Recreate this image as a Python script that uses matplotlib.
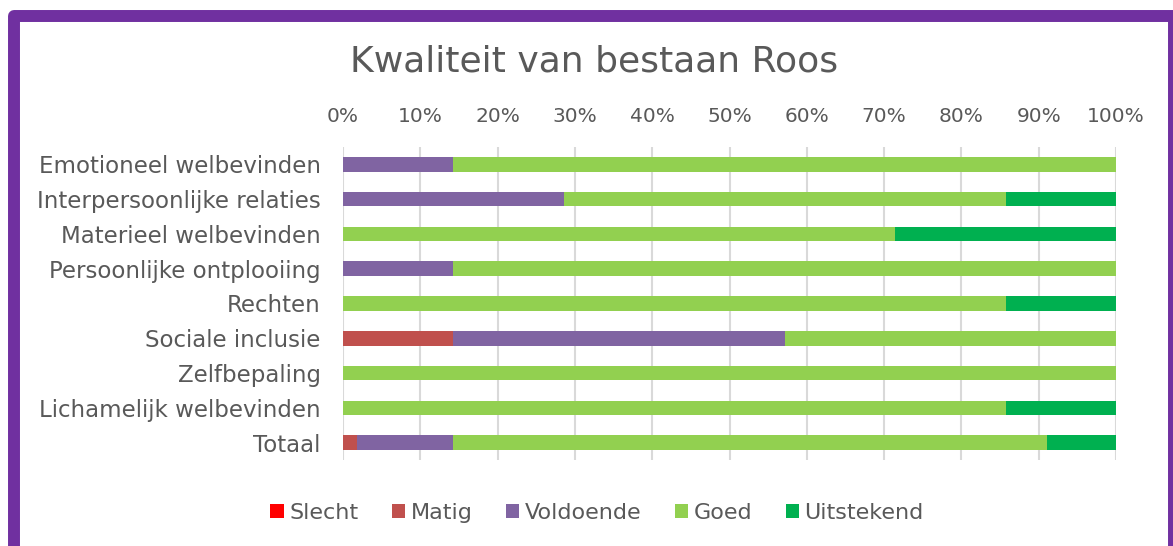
import matplotlib.pyplot as plt
from matplotlib.patches import Rectangle
import numpy as np

plt.rcParams['font.family'] = ['DejaVu Sans']

# Gegevens
categorieen = ['Emotioneel welbevinden', 'Interpersoonlijke relaties', 'Materieel welbevinden',
               'Persoonlijke ontplooiing', 'Rechten', 'Sociale inclusie', 'Zelfbepaling',
               'Lichamelijk welbevinden', 'Totaal']
slecht = [0, 0, 0, 0, 0, 0, 0, 0, 0]
matig = [0, 0, 0, 0, 0, 1/7, 0, 0, 1/56]
voldoende = [1/7, 2/7, 0, 1/7, 0, 3/7, 0, 0, 7/56]
goed = [6/7, 4/7, 5/7, 6/7, 6/7, 3/7, 1, 6/7, 43/56]
uitstekend = [0, 1/7, 2/7, 0, 1/7, 0, 0, 1/7, 5/56]

series = [('Slecht', slecht, '#FF0000'), ('Matig', matig, '#C0504D'),
          ('Voldoende', voldoende, '#8064A2'), ('Goed', goed, '#92D050'),
          ('Uitstekend', uitstekend, '#00B050')]

tekst = '#595959'
fig = plt.figure(figsize=(11.73, 5.46), dpi=100)
ax = fig.add_axes([343/1173, 1 - 460/546, (1116 - 343)/1173, (460 - 147)/546])

y = np.arange(len(categorieen))
links = np.zeros(len(categorieen))
for naam, waarden, kleur in series:
    w = np.array(waarden)
    ax.barh(y, w, left=links, height=0.42, color=kleur, label=naam, zorder=3)
    links += w

ax.set_xlim(0, 1)
ax.set_ylim(8.5, -0.5)
ax.set_yticks(y)
ax.set_yticklabels(categorieen, fontsize=16.5, color=tekst)
ax.set_xticks(np.arange(0, 1.01, 0.1))
ax.set_xticklabels([f'{int(round(v*100))}%' for v in np.arange(0, 1.01, 0.1)], fontsize=14.5, color=tekst)
ax.xaxis.tick_top()
ax.tick_params(axis='x', length=0, pad=15)
ax.tick_params(axis='y', length=0, pad=16)
ax.grid(axis='x', color='#D9D9D9', linewidth=1.5, zorder=0)
for s in ax.spines.values():
    s.set_visible(False)

fig.text(594/1173, 1 - 62/546, 'Kwaliteit van bestaan Roos', ha='center', va='center',
         fontsize=26, color=tekst)

fig.legend(loc='center', bbox_to_anchor=(597/1173, 1 - 513/546), ncol=5, frameon=False,
           fontsize=16, labelcolor=tekst, handlelength=0.6, handleheight=0.6,
           handletextpad=0.25, columnspacing=1.5)

# Paarse rand
fig.patches.append(Rectangle((14/1173, 1 - 549/546), 1160/1173, 533/546, transform=fig.transFigure,
                             fill=False, edgecolor='#7030A0', linewidth=8.6, joinstyle='round'))

plt.savefig('out.png', dpi=100)
